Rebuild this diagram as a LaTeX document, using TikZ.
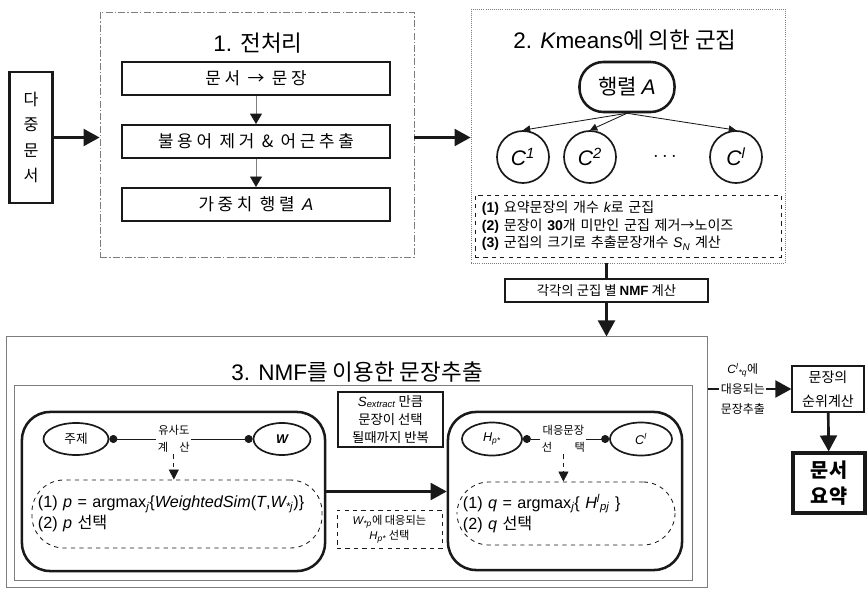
\documentclass[tikz,border=0pt]{standalone}
\usepackage{fontspec}
\setmainfont{Liberation Sans}
\newfontfamily\hangul{Noto Sans CJK KR}
\usetikzlibrary{arrows.meta,positioning,shapes.geometric}
\definecolor{ink}{RGB}{25,25,25}
\definecolor{rulegray}{RGB}{125,125,125}
\newcommand\kor[1]{{\hangul #1}}
\newcommand\itv[1]{{\normalfont\itshape #1}}
\newcommand\isub[1]{\textsubscript{\itv{#1}}}
\newcommand\isup[1]{\textsuperscript{\itv{#1}}}
\tikzset{
  zone/.style={draw=rulegray,line width=0.5pt,dash pattern=on 5pt off 1.5pt on 1pt off 1.5pt,inner sep=0pt},
  panel/.style={draw=rulegray,line width=0.7pt,inner sep=0pt},
  heading/.style={font=\fontsize{16}{19}\selectfont,inner sep=1pt},
  docbox/.style={draw=ink,line width=1.9pt,minimum width=1.075cm,minimum height=3.275cm,align=center,font=\hangul\fontsize{11.5}{18}\selectfont},
  stepbox/.style={draw=ink,line width=1.4pt,minimum width=6.675cm,minimum height=0.825cm,inner sep=0pt,font=\hangul\addfontfeature{LetterSpace=22}\fontsize{12}{14}\selectfont},
  hub/.style={draw=ink,line width=1.8pt,rounded corners=0.6cm,minimum width=2.375cm,minimum height=1.25cm,font=\hangul\fontsize{15}{18}\selectfont},
  cluster/.style={draw=ink,circle,line width=1.2pt,minimum size=1.3cm,inner sep=0pt,font=\fontsize{15}{18}\selectfont},
  notebox/.style={draw=ink,dashed,line width=0.6pt,minimum width=7.65cm,minimum height=1.55cm,text width=7.3cm,align=left,font=\fontsize{10}{12.5}\selectfont},
  plainbox/.style={draw=ink,line width=1.2pt,inner sep=0pt,align=center,font=\hangul\fontsize{9.5}{13}\selectfont},
  roundbox/.style={draw=ink,line width=1.8pt,rounded corners=0.7cm,inner sep=0pt},
  topic/.style={draw=ink,ellipse,line width=1.2pt,minimum height=0.8cm,inner sep=0pt,font=\hangul\fontsize{9}{11}\selectfont},
  dashround/.style={draw=ink,dashed,line width=0.6pt,rounded corners=0.8cm,align=left,font=\fontsize{11.5}{15}\selectfont},
  dashbox/.style={draw=ink,dashed,line width=0.6pt,align=center,font=\hangul\fontsize{8}{11}\selectfont},
  tag/.style={fill=white,align=center,inner sep=1pt,font=\hangul\fontsize{8}{12}\selectfont},
  flow/.style={draw=ink,line width=1.9pt,-{Triangle[length=0.4cm,width=0.42cm]}},
  thinflow/.style={draw=rulegray,line width=0.6pt,-{Triangle[color=ink,length=0.26cm,width=0.3cm]}},
  fine/.style={draw=ink,line width=0.6pt,-{Triangle[length=0.18cm,width=0.18cm]}},
  dashflow/.style={draw=ink,dashed,line width=0.6pt,-{Triangle[length=0.25cm,width=0.25cm]}},
  dotlink/.style={draw=ink,line width=0.5pt,{Circle[length=0.2cm]}-{Circle[length=0.2cm]}},
  link/.style={draw=ink,line width=1.9pt}
}

\begin{document}
\begin{tikzpicture}[x=0.025cm,y=0.025cm,node distance=0.7cm]
\useasboundingbox (0,0) rectangle (868,594);
\node[docbox] (docs) at (31,456.5) {다\\중\\문\\서};

\node[zone,minimum width=7.85cm,minimum height=6.125cm] (pre) at (257,459.5) {};
\node[heading] (pretitle) at (258,551) {1. \kor{전처리}};
\node[stepbox] (split) at (256,515.5) {문서 → 문장};
\node[stepbox,below=of split] (stop) {불용어 제거 \& 어근추출};
\node[stepbox,below=of stop] (weight) {가중치 행렬 \itv{A}};
\draw[thinflow] (split) -- (stop);
\draw[thinflow] (stop) -- (weight);

\node[zone,densely dotted,minimum width=7.85cm,minimum height=6.35cm] (km) at (628,458) {};
\node[heading] (kmtitle) at (625,554) {2. \itv{K}means\kor{에 의한 군집}};
\node[hub] (mat) at (627,507) {행렬 \itv{A}};
\node[cluster] (c1) at (523,437) {\itv{C}\isup{1}};
\node[cluster] (c2) at (590,437) {\itv{C}\isup{2}};
\node[font=\fontsize{15}{15}\selectfont] (dots) at (665,437) {$\cdots$};
\node[cluster] (cl) at (736,437) {\itv{C}\isup{l}};
\draw[fine] (mat.south) -- (c1.north);
\draw[fine] (mat.south) -- (c2.north);
\draw[fine] (mat.south) -- (cl.north);
\node[notebox] (notes) at (628,368) {\textbf{(1)} \kor{요약문장의 개수} \itv{k}\kor{로 군집}\\
  \textbf{(2)} \kor{문장이} \textbf{30}\kor{개 미만인 군집 제거→노이즈}\\
  \textbf{(3)} \kor{군집의 크기로 추출문장개수} \itv{S}\isub{N} \kor{계산}};

\draw[flow] (docs) -- (docs -| pre.west);
\draw[flow] (pre.east |- docs) -- (km.west |- docs);

\node[plainbox,minimum width=5.075cm,minimum height=0.575cm] (nmfc) at (606.5,303.5) {각각의 군집 별 {\normalfont\bfseries NMF} 계산};
\draw[link] (km.south -| nmfc) -- (nmfc.north);

\node[panel,minimum width=17.5cm,minimum height=6.25cm] (ext) at (357,132) {};
\node[heading] (exttitle) at (357,222) {3. NMF\kor{를 이용한 문장추출}};
\node[panel,minimum width=16.925cm,minimum height=4.85cm] (loop) at (353.5,111) {};
\draw[flow] (nmfc.south) -- (nmfc.south |- ext.north);

\node[roundbox,minimum width=7.575cm,minimum height=3.975cm] (pick) at (173.5,102.5) {};
\node[topic,minimum width=1.625cm] (topic) at (76,155) {주제};
\node[topic,minimum width=1.425cm] (wmat) at (282,155) {{\normalfont\bfseries\itshape W}};
\draw[dotlink] (topic) -- (wmat) node[tag,pos=0.45] (sim) {유사도\\계\hspace{1em}산};
\node[dashround,minimum width=7.25cm,minimum height=1.7cm,text width=6.95cm] (pbox) at (177,80)
  {(1) \itv{p} = argmax\isub{j}\{\itv{WeightedSim}(\itv{T},\itv{W}\isub{*j})\}\\(2) \itv{p} \kor{선택}};
\draw[dashflow] (sim.south) -- (sim.south |- pbox.north);

\node[plainbox,minimum width=2.625cm,minimum height=1.375cm,line width=0.9pt] (repeat) at (390.5,174.5)
  {\itv{S}\isub{extract} 만큼\\문장이 선택\\될때까지 반복};
\node[dashbox,minimum width=2.625cm,minimum height=0.95cm] (hsel) at (389.5,65)
  {\itv{W}\isub{*p}에 대응되는\\\itv{H}\isub{p*} 선택};

\node[roundbox,minimum width=5.85cm,minimum height=3.95cm] (sel) at (565,103) {};
\node[topic,minimum width=1.5cm,minimum height=0.825cm] (hp) at (492,155) {\itv{H}\isub{p*}};
\node[topic,minimum width=1.55cm,minimum height=0.825cm] (cc) at (641,155) {\itv{C}\isup{l}};
\draw[dotlink] (hp) -- (cc) node[tag,pos=0.47] (match) {대응문장\\선\hspace{2em}택};
\node[dashround,minimum width=5.45cm,minimum height=1.575cm,text width=5.15cm] (qbox) at (566,80.5)
  {(1) \itv{q} = argmax\isub{j}\{ \itv{H}\isup{l}\isub{pj} \}\\(2) \itv{q} \kor{선택}};
\draw[dashflow] (match.south) -- (match.south |- qbox.north);

\draw[flow] (pick.east) -- (pick.east -| sel.west);

\node[plainbox,minimum width=1.8cm,minimum height=1.15cm,line width=0.8pt,font=\hangul\fontsize{10}{17}\selectfont] (rank) at (828,205) {문장의\\순위계산};
\node[plainbox,minimum width=1.8cm,minimum height=1.5cm,line width=2.2pt,font=\hangul\bfseries\fontsize{14}{19}\selectfont] (summ) at (829,111) {문서\\요약};
\draw[flow] (ext.east |- rank) -- (rank.west) node[tag,pos=0.42,font=\hangul\fontsize{8.5}{14}\selectfont] (outlbl) {\itv{C}\isup{l}\isub{*q}에\\대응되는\\문장추출};
\draw[flow] (rank) -- (summ);
\end{tikzpicture}
\end{document}
